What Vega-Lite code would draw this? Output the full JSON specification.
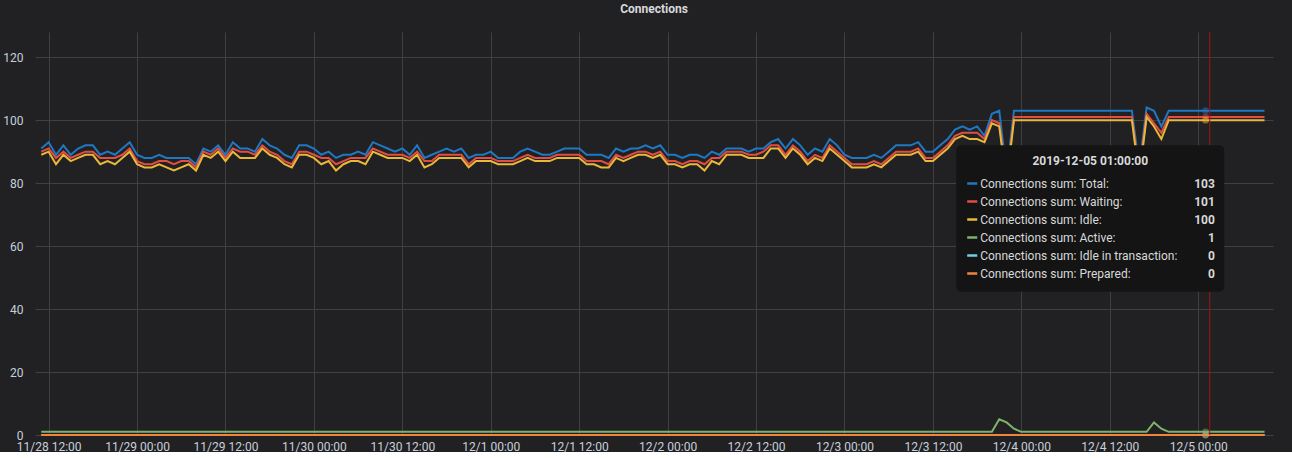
{
  "$schema": "https://vega.github.io/schema/vega-lite/v6.json",
  "width": 1238,
  "height": 403,
  "padding": {"left": 2, "top": 2, "right": 20, "bottom": 0},
  "background": "#212124",
  "title": {"text": "Connections", "color": "#d8d9da", "fontSize": 12, "fontWeight": "bold", "font": "Roboto", "offset": 16, "anchor": "middle"},
  "config": {
    "view": {"stroke": null},
    "font": "Roboto",
    "axis": {"domain": false, "ticks": false, "labelColor": "#c7d0d9", "labelFontSize": 12, "labelFont": "Roboto", "gridColor": "#3f4044", "gridWidth": 1, "title": null}
  },
  "datasets": {
    "conn": [
      {"t": "2019-11-28T11:00Z", "Total": 91, "Waiting": 90, "Idle": 89, "Active": 1, "Idle in transaction": 0, "Prepared": 0},
      {"t": "2019-11-28T12:00Z", "Total": 93, "Waiting": 91, "Idle": 90, "Active": 1, "Idle in transaction": 0, "Prepared": 0},
      {"t": "2019-11-28T13:00Z", "Total": 89, "Waiting": 88, "Idle": 86, "Active": 1, "Idle in transaction": 0, "Prepared": 0},
      {"t": "2019-11-28T14:00Z", "Total": 92, "Waiting": 90, "Idle": 89, "Active": 1, "Idle in transaction": 0, "Prepared": 0},
      {"t": "2019-11-28T15:00Z", "Total": 89, "Waiting": 88, "Idle": 87, "Active": 1, "Idle in transaction": 0, "Prepared": 0},
      {"t": "2019-11-28T16:00Z", "Total": 91, "Waiting": 89, "Idle": 88, "Active": 1, "Idle in transaction": 0, "Prepared": 0},
      {"t": "2019-11-28T17:00Z", "Total": 92, "Waiting": 90, "Idle": 89, "Active": 1, "Idle in transaction": 0, "Prepared": 0},
      {"t": "2019-11-28T18:00Z", "Total": 92, "Waiting": 90, "Idle": 89, "Active": 1, "Idle in transaction": 0, "Prepared": 0},
      {"t": "2019-11-28T19:00Z", "Total": 89, "Waiting": 88, "Idle": 86, "Active": 1, "Idle in transaction": 0, "Prepared": 0},
      {"t": "2019-11-28T20:00Z", "Total": 90, "Waiting": 88, "Idle": 87, "Active": 1, "Idle in transaction": 0, "Prepared": 0},
      {"t": "2019-11-28T21:00Z", "Total": 89, "Waiting": 88, "Idle": 86, "Active": 1, "Idle in transaction": 0, "Prepared": 0},
      {"t": "2019-11-28T22:00Z", "Total": 91, "Waiting": 89, "Idle": 88, "Active": 1, "Idle in transaction": 0, "Prepared": 0},
      {"t": "2019-11-28T23:00Z", "Total": 93, "Waiting": 91, "Idle": 90, "Active": 1, "Idle in transaction": 0, "Prepared": 0},
      {"t": "2019-11-29T00:00Z", "Total": 89, "Waiting": 87, "Idle": 86, "Active": 1, "Idle in transaction": 0, "Prepared": 0},
      {"t": "2019-11-29T01:00Z", "Total": 88, "Waiting": 86, "Idle": 85, "Active": 1, "Idle in transaction": 0, "Prepared": 0},
      {"t": "2019-11-29T02:00Z", "Total": 88, "Waiting": 86, "Idle": 85, "Active": 1, "Idle in transaction": 0, "Prepared": 0},
      {"t": "2019-11-29T03:00Z", "Total": 89, "Waiting": 87, "Idle": 86, "Active": 1, "Idle in transaction": 0, "Prepared": 0},
      {"t": "2019-11-29T04:00Z", "Total": 88, "Waiting": 87, "Idle": 85, "Active": 1, "Idle in transaction": 0, "Prepared": 0},
      {"t": "2019-11-29T05:00Z", "Total": 88, "Waiting": 86, "Idle": 84, "Active": 1, "Idle in transaction": 0, "Prepared": 0},
      {"t": "2019-11-29T06:00Z", "Total": 88, "Waiting": 87, "Idle": 85, "Active": 1, "Idle in transaction": 0, "Prepared": 0},
      {"t": "2019-11-29T07:00Z", "Total": 88, "Waiting": 87, "Idle": 86, "Active": 1, "Idle in transaction": 0, "Prepared": 0},
      {"t": "2019-11-29T08:00Z", "Total": 86, "Waiting": 85, "Idle": 84, "Active": 1, "Idle in transaction": 0, "Prepared": 0},
      {"t": "2019-11-29T09:00Z", "Total": 91, "Waiting": 90, "Idle": 89, "Active": 1, "Idle in transaction": 0, "Prepared": 0},
      {"t": "2019-11-29T10:00Z", "Total": 90, "Waiting": 89, "Idle": 88, "Active": 1, "Idle in transaction": 0, "Prepared": 0},
      {"t": "2019-11-29T11:00Z", "Total": 92, "Waiting": 91, "Idle": 90, "Active": 1, "Idle in transaction": 0, "Prepared": 0},
      {"t": "2019-11-29T12:00Z", "Total": 89, "Waiting": 88, "Idle": 87, "Active": 1, "Idle in transaction": 0, "Prepared": 0},
      {"t": "2019-11-29T13:00Z", "Total": 93, "Waiting": 91, "Idle": 90, "Active": 1, "Idle in transaction": 0, "Prepared": 0},
      {"t": "2019-11-29T14:00Z", "Total": 91, "Waiting": 90, "Idle": 88, "Active": 1, "Idle in transaction": 0, "Prepared": 0},
      {"t": "2019-11-29T15:00Z", "Total": 91, "Waiting": 90, "Idle": 88, "Active": 1, "Idle in transaction": 0, "Prepared": 0},
      {"t": "2019-11-29T16:00Z", "Total": 90, "Waiting": 89, "Idle": 88, "Active": 1, "Idle in transaction": 0, "Prepared": 0},
      {"t": "2019-11-29T17:00Z", "Total": 94, "Waiting": 92, "Idle": 91, "Active": 1, "Idle in transaction": 0, "Prepared": 0},
      {"t": "2019-11-29T18:00Z", "Total": 92, "Waiting": 90, "Idle": 89, "Active": 1, "Idle in transaction": 0, "Prepared": 0},
      {"t": "2019-11-29T19:00Z", "Total": 91, "Waiting": 89, "Idle": 88, "Active": 1, "Idle in transaction": 0, "Prepared": 0},
      {"t": "2019-11-29T20:00Z", "Total": 89, "Waiting": 87, "Idle": 86, "Active": 1, "Idle in transaction": 0, "Prepared": 0},
      {"t": "2019-11-29T21:00Z", "Total": 88, "Waiting": 86, "Idle": 85, "Active": 1, "Idle in transaction": 0, "Prepared": 0},
      {"t": "2019-11-29T22:00Z", "Total": 92, "Waiting": 90, "Idle": 89, "Active": 1, "Idle in transaction": 0, "Prepared": 0},
      {"t": "2019-11-29T23:00Z", "Total": 92, "Waiting": 90, "Idle": 89, "Active": 1, "Idle in transaction": 0, "Prepared": 0},
      {"t": "2019-11-30T00:00Z", "Total": 91, "Waiting": 89, "Idle": 88, "Active": 1, "Idle in transaction": 0, "Prepared": 0},
      {"t": "2019-11-30T01:00Z", "Total": 89, "Waiting": 88, "Idle": 86, "Active": 1, "Idle in transaction": 0, "Prepared": 0},
      {"t": "2019-11-30T02:00Z", "Total": 90, "Waiting": 88, "Idle": 87, "Active": 1, "Idle in transaction": 0, "Prepared": 0},
      {"t": "2019-11-30T03:00Z", "Total": 88, "Waiting": 86, "Idle": 84, "Active": 1, "Idle in transaction": 0, "Prepared": 0},
      {"t": "2019-11-30T04:00Z", "Total": 89, "Waiting": 87, "Idle": 86, "Active": 1, "Idle in transaction": 0, "Prepared": 0},
      {"t": "2019-11-30T05:00Z", "Total": 89, "Waiting": 88, "Idle": 87, "Active": 1, "Idle in transaction": 0, "Prepared": 0},
      {"t": "2019-11-30T06:00Z", "Total": 90, "Waiting": 88, "Idle": 87, "Active": 1, "Idle in transaction": 0, "Prepared": 0},
      {"t": "2019-11-30T07:00Z", "Total": 89, "Waiting": 88, "Idle": 86, "Active": 1, "Idle in transaction": 0, "Prepared": 0},
      {"t": "2019-11-30T08:00Z", "Total": 93, "Waiting": 91, "Idle": 90, "Active": 1, "Idle in transaction": 0, "Prepared": 0},
      {"t": "2019-11-30T09:00Z", "Total": 92, "Waiting": 90, "Idle": 89, "Active": 1, "Idle in transaction": 0, "Prepared": 0},
      {"t": "2019-11-30T10:00Z", "Total": 91, "Waiting": 89, "Idle": 88, "Active": 1, "Idle in transaction": 0, "Prepared": 0},
      {"t": "2019-11-30T11:00Z", "Total": 90, "Waiting": 89, "Idle": 88, "Active": 1, "Idle in transaction": 0, "Prepared": 0},
      {"t": "2019-11-30T12:00Z", "Total": 91, "Waiting": 89, "Idle": 88, "Active": 1, "Idle in transaction": 0, "Prepared": 0},
      {"t": "2019-11-30T13:00Z", "Total": 89, "Waiting": 88, "Idle": 87, "Active": 1, "Idle in transaction": 0, "Prepared": 0},
      {"t": "2019-11-30T14:00Z", "Total": 92, "Waiting": 90, "Idle": 89, "Active": 1, "Idle in transaction": 0, "Prepared": 0},
      {"t": "2019-11-30T15:00Z", "Total": 88, "Waiting": 87, "Idle": 85, "Active": 1, "Idle in transaction": 0, "Prepared": 0},
      {"t": "2019-11-30T16:00Z", "Total": 89, "Waiting": 87, "Idle": 86, "Active": 1, "Idle in transaction": 0, "Prepared": 0},
      {"t": "2019-11-30T17:00Z", "Total": 90, "Waiting": 89, "Idle": 88, "Active": 1, "Idle in transaction": 0, "Prepared": 0},
      {"t": "2019-11-30T18:00Z", "Total": 91, "Waiting": 89, "Idle": 88, "Active": 1, "Idle in transaction": 0, "Prepared": 0},
      {"t": "2019-11-30T19:00Z", "Total": 90, "Waiting": 89, "Idle": 88, "Active": 1, "Idle in transaction": 0, "Prepared": 0},
      {"t": "2019-11-30T20:00Z", "Total": 91, "Waiting": 89, "Idle": 88, "Active": 1, "Idle in transaction": 0, "Prepared": 0},
      {"t": "2019-11-30T21:00Z", "Total": 88, "Waiting": 86, "Idle": 85, "Active": 1, "Idle in transaction": 0, "Prepared": 0},
      {"t": "2019-11-30T22:00Z", "Total": 89, "Waiting": 88, "Idle": 87, "Active": 1, "Idle in transaction": 0, "Prepared": 0},
      {"t": "2019-11-30T23:00Z", "Total": 89, "Waiting": 88, "Idle": 87, "Active": 1, "Idle in transaction": 0, "Prepared": 0},
      {"t": "2019-12-01T00:00Z", "Total": 90, "Waiting": 88, "Idle": 87, "Active": 1, "Idle in transaction": 0, "Prepared": 0},
      {"t": "2019-12-01T01:00Z", "Total": 88, "Waiting": 87, "Idle": 86, "Active": 1, "Idle in transaction": 0, "Prepared": 0},
      {"t": "2019-12-01T02:00Z", "Total": 88, "Waiting": 87, "Idle": 86, "Active": 1, "Idle in transaction": 0, "Prepared": 0},
      {"t": "2019-12-01T03:00Z", "Total": 88, "Waiting": 87, "Idle": 86, "Active": 1, "Idle in transaction": 0, "Prepared": 0},
      {"t": "2019-12-01T04:00Z", "Total": 90, "Waiting": 88, "Idle": 87, "Active": 1, "Idle in transaction": 0, "Prepared": 0},
      {"t": "2019-12-01T05:00Z", "Total": 91, "Waiting": 89, "Idle": 88, "Active": 1, "Idle in transaction": 0, "Prepared": 0},
      {"t": "2019-12-01T06:00Z", "Total": 90, "Waiting": 88, "Idle": 87, "Active": 1, "Idle in transaction": 0, "Prepared": 0},
      {"t": "2019-12-01T07:00Z", "Total": 89, "Waiting": 88, "Idle": 87, "Active": 1, "Idle in transaction": 0, "Prepared": 0},
      {"t": "2019-12-01T08:00Z", "Total": 89, "Waiting": 88, "Idle": 87, "Active": 1, "Idle in transaction": 0, "Prepared": 0},
      {"t": "2019-12-01T09:00Z", "Total": 90, "Waiting": 89, "Idle": 88, "Active": 1, "Idle in transaction": 0, "Prepared": 0},
      {"t": "2019-12-01T10:00Z", "Total": 91, "Waiting": 89, "Idle": 88, "Active": 1, "Idle in transaction": 0, "Prepared": 0},
      {"t": "2019-12-01T11:00Z", "Total": 91, "Waiting": 89, "Idle": 88, "Active": 1, "Idle in transaction": 0, "Prepared": 0},
      {"t": "2019-12-01T12:00Z", "Total": 91, "Waiting": 89, "Idle": 88, "Active": 1, "Idle in transaction": 0, "Prepared": 0},
      {"t": "2019-12-01T13:00Z", "Total": 89, "Waiting": 87, "Idle": 86, "Active": 1, "Idle in transaction": 0, "Prepared": 0},
      {"t": "2019-12-01T14:00Z", "Total": 89, "Waiting": 87, "Idle": 86, "Active": 1, "Idle in transaction": 0, "Prepared": 0},
      {"t": "2019-12-01T15:00Z", "Total": 89, "Waiting": 87, "Idle": 85, "Active": 1, "Idle in transaction": 0, "Prepared": 0},
      {"t": "2019-12-01T16:00Z", "Total": 88, "Waiting": 86, "Idle": 85, "Active": 1, "Idle in transaction": 0, "Prepared": 0},
      {"t": "2019-12-01T17:00Z", "Total": 91, "Waiting": 89, "Idle": 88, "Active": 1, "Idle in transaction": 0, "Prepared": 0},
      {"t": "2019-12-01T18:00Z", "Total": 90, "Waiting": 88, "Idle": 87, "Active": 1, "Idle in transaction": 0, "Prepared": 0},
      {"t": "2019-12-01T19:00Z", "Total": 91, "Waiting": 89, "Idle": 88, "Active": 1, "Idle in transaction": 0, "Prepared": 0},
      {"t": "2019-12-01T20:00Z", "Total": 91, "Waiting": 90, "Idle": 89, "Active": 1, "Idle in transaction": 0, "Prepared": 0},
      {"t": "2019-12-01T21:00Z", "Total": 92, "Waiting": 90, "Idle": 89, "Active": 1, "Idle in transaction": 0, "Prepared": 0},
      {"t": "2019-12-01T22:00Z", "Total": 91, "Waiting": 89, "Idle": 88, "Active": 1, "Idle in transaction": 0, "Prepared": 0},
      {"t": "2019-12-01T23:00Z", "Total": 92, "Waiting": 90, "Idle": 89, "Active": 1, "Idle in transaction": 0, "Prepared": 0},
      {"t": "2019-12-02T00:00Z", "Total": 89, "Waiting": 87, "Idle": 86, "Active": 1, "Idle in transaction": 0, "Prepared": 0},
      {"t": "2019-12-02T01:00Z", "Total": 89, "Waiting": 87, "Idle": 86, "Active": 1, "Idle in transaction": 0, "Prepared": 0},
      {"t": "2019-12-02T02:00Z", "Total": 88, "Waiting": 86, "Idle": 85, "Active": 1, "Idle in transaction": 0, "Prepared": 0},
      {"t": "2019-12-02T03:00Z", "Total": 89, "Waiting": 87, "Idle": 86, "Active": 1, "Idle in transaction": 0, "Prepared": 0},
      {"t": "2019-12-02T04:00Z", "Total": 89, "Waiting": 87, "Idle": 86, "Active": 1, "Idle in transaction": 0, "Prepared": 0},
      {"t": "2019-12-02T05:00Z", "Total": 88, "Waiting": 86, "Idle": 84, "Active": 1, "Idle in transaction": 0, "Prepared": 0},
      {"t": "2019-12-02T06:00Z", "Total": 90, "Waiting": 88, "Idle": 87, "Active": 1, "Idle in transaction": 0, "Prepared": 0},
      {"t": "2019-12-02T07:00Z", "Total": 89, "Waiting": 88, "Idle": 86, "Active": 1, "Idle in transaction": 0, "Prepared": 0},
      {"t": "2019-12-02T08:00Z", "Total": 91, "Waiting": 90, "Idle": 89, "Active": 1, "Idle in transaction": 0, "Prepared": 0},
      {"t": "2019-12-02T09:00Z", "Total": 91, "Waiting": 90, "Idle": 89, "Active": 1, "Idle in transaction": 0, "Prepared": 0},
      {"t": "2019-12-02T10:00Z", "Total": 91, "Waiting": 90, "Idle": 89, "Active": 1, "Idle in transaction": 0, "Prepared": 0},
      {"t": "2019-12-02T11:00Z", "Total": 90, "Waiting": 89, "Idle": 88, "Active": 1, "Idle in transaction": 0, "Prepared": 0},
      {"t": "2019-12-02T12:00Z", "Total": 91, "Waiting": 89, "Idle": 88, "Active": 1, "Idle in transaction": 0, "Prepared": 0},
      {"t": "2019-12-02T13:00Z", "Total": 91, "Waiting": 90, "Idle": 88, "Active": 1, "Idle in transaction": 0, "Prepared": 0},
      {"t": "2019-12-02T14:00Z", "Total": 93, "Waiting": 92, "Idle": 91, "Active": 1, "Idle in transaction": 0, "Prepared": 0},
      {"t": "2019-12-02T15:00Z", "Total": 94, "Waiting": 92, "Idle": 91, "Active": 1, "Idle in transaction": 0, "Prepared": 0},
      {"t": "2019-12-02T16:00Z", "Total": 91, "Waiting": 89, "Idle": 88, "Active": 1, "Idle in transaction": 0, "Prepared": 0},
      {"t": "2019-12-02T17:00Z", "Total": 94, "Waiting": 92, "Idle": 91, "Active": 1, "Idle in transaction": 0, "Prepared": 0},
      {"t": "2019-12-02T18:00Z", "Total": 92, "Waiting": 90, "Idle": 89, "Active": 1, "Idle in transaction": 0, "Prepared": 0},
      {"t": "2019-12-02T19:00Z", "Total": 89, "Waiting": 87, "Idle": 86, "Active": 1, "Idle in transaction": 0, "Prepared": 0},
      {"t": "2019-12-02T20:00Z", "Total": 91, "Waiting": 89, "Idle": 88, "Active": 1, "Idle in transaction": 0, "Prepared": 0},
      {"t": "2019-12-02T21:00Z", "Total": 90, "Waiting": 88, "Idle": 87, "Active": 1, "Idle in transaction": 0, "Prepared": 0},
      {"t": "2019-12-02T22:00Z", "Total": 94, "Waiting": 92, "Idle": 91, "Active": 1, "Idle in transaction": 0, "Prepared": 0},
      {"t": "2019-12-02T23:00Z", "Total": 92, "Waiting": 90, "Idle": 89, "Active": 1, "Idle in transaction": 0, "Prepared": 0},
      {"t": "2019-12-03T00:00Z", "Total": 89, "Waiting": 88, "Idle": 87, "Active": 1, "Idle in transaction": 0, "Prepared": 0},
      {"t": "2019-12-03T01:00Z", "Total": 88, "Waiting": 86, "Idle": 85, "Active": 1, "Idle in transaction": 0, "Prepared": 0},
      {"t": "2019-12-03T02:00Z", "Total": 88, "Waiting": 86, "Idle": 85, "Active": 1, "Idle in transaction": 0, "Prepared": 0},
      {"t": "2019-12-03T03:00Z", "Total": 88, "Waiting": 86, "Idle": 85, "Active": 1, "Idle in transaction": 0, "Prepared": 0},
      {"t": "2019-12-03T04:00Z", "Total": 89, "Waiting": 87, "Idle": 86, "Active": 1, "Idle in transaction": 0, "Prepared": 0},
      {"t": "2019-12-03T05:00Z", "Total": 88, "Waiting": 86, "Idle": 85, "Active": 1, "Idle in transaction": 0, "Prepared": 0},
      {"t": "2019-12-03T06:00Z", "Total": 90, "Waiting": 88, "Idle": 87, "Active": 1, "Idle in transaction": 0, "Prepared": 0},
      {"t": "2019-12-03T07:00Z", "Total": 92, "Waiting": 90, "Idle": 89, "Active": 1, "Idle in transaction": 0, "Prepared": 0},
      {"t": "2019-12-03T08:00Z", "Total": 92, "Waiting": 90, "Idle": 89, "Active": 1, "Idle in transaction": 0, "Prepared": 0},
      {"t": "2019-12-03T09:00Z", "Total": 92, "Waiting": 90, "Idle": 89, "Active": 1, "Idle in transaction": 0, "Prepared": 0},
      {"t": "2019-12-03T10:00Z", "Total": 93, "Waiting": 91, "Idle": 90, "Active": 1, "Idle in transaction": 0, "Prepared": 0},
      {"t": "2019-12-03T11:00Z", "Total": 90, "Waiting": 88, "Idle": 87, "Active": 1, "Idle in transaction": 0, "Prepared": 0},
      {"t": "2019-12-03T12:00Z", "Total": 90, "Waiting": 88, "Idle": 87, "Active": 1, "Idle in transaction": 0, "Prepared": 0},
      {"t": "2019-12-03T13:00Z", "Total": 92, "Waiting": 90, "Idle": 89, "Active": 1, "Idle in transaction": 0, "Prepared": 0},
      {"t": "2019-12-03T14:00Z", "Total": 94, "Waiting": 92, "Idle": 91, "Active": 1, "Idle in transaction": 0, "Prepared": 0},
      {"t": "2019-12-03T15:00Z", "Total": 97, "Waiting": 95, "Idle": 94, "Active": 1, "Idle in transaction": 0, "Prepared": 0},
      {"t": "2019-12-03T16:00Z", "Total": 98, "Waiting": 96, "Idle": 95, "Active": 1, "Idle in transaction": 0, "Prepared": 0},
      {"t": "2019-12-03T17:00Z", "Total": 97, "Waiting": 96, "Idle": 94, "Active": 1, "Idle in transaction": 0, "Prepared": 0},
      {"t": "2019-12-03T18:00Z", "Total": 98, "Waiting": 96, "Idle": 94, "Active": 1, "Idle in transaction": 0, "Prepared": 0},
      {"t": "2019-12-03T19:00Z", "Total": 95, "Waiting": 94, "Idle": 93, "Active": 1, "Idle in transaction": 0, "Prepared": 0},
      {"t": "2019-12-03T20:00Z", "Total": 102, "Waiting": 100, "Idle": 99, "Active": 1, "Idle in transaction": 0, "Prepared": 0},
      {"t": "2019-12-03T21:00Z", "Total": 103, "Waiting": 99, "Idle": 98, "Active": 5, "Idle in transaction": 0, "Prepared": 0},
      {"t": "2019-12-03T22:00Z", "Total": 83, "Waiting": 81, "Idle": 80, "Active": 4, "Idle in transaction": 0, "Prepared": 0},
      {"t": "2019-12-03T23:00Z", "Total": 103, "Waiting": 101, "Idle": 100, "Active": 2, "Idle in transaction": 0, "Prepared": 0},
      {"t": "2019-12-04T00:00Z", "Total": 103, "Waiting": 101, "Idle": 100, "Active": 1, "Idle in transaction": 0, "Prepared": 0},
      {"t": "2019-12-04T01:00Z", "Total": 103, "Waiting": 101, "Idle": 100, "Active": 1, "Idle in transaction": 0, "Prepared": 0},
      {"t": "2019-12-04T02:00Z", "Total": 103, "Waiting": 101, "Idle": 100, "Active": 1, "Idle in transaction": 0, "Prepared": 0},
      {"t": "2019-12-04T03:00Z", "Total": 103, "Waiting": 101, "Idle": 100, "Active": 1, "Idle in transaction": 0, "Prepared": 0},
      {"t": "2019-12-04T04:00Z", "Total": 103, "Waiting": 101, "Idle": 100, "Active": 1, "Idle in transaction": 0, "Prepared": 0},
      {"t": "2019-12-04T05:00Z", "Total": 103, "Waiting": 101, "Idle": 100, "Active": 1, "Idle in transaction": 0, "Prepared": 0},
      {"t": "2019-12-04T06:00Z", "Total": 103, "Waiting": 101, "Idle": 100, "Active": 1, "Idle in transaction": 0, "Prepared": 0},
      {"t": "2019-12-04T07:00Z", "Total": 103, "Waiting": 101, "Idle": 100, "Active": 1, "Idle in transaction": 0, "Prepared": 0},
      {"t": "2019-12-04T08:00Z", "Total": 103, "Waiting": 101, "Idle": 100, "Active": 1, "Idle in transaction": 0, "Prepared": 0},
      {"t": "2019-12-04T09:00Z", "Total": 103, "Waiting": 101, "Idle": 100, "Active": 1, "Idle in transaction": 0, "Prepared": 0},
      {"t": "2019-12-04T10:00Z", "Total": 103, "Waiting": 101, "Idle": 100, "Active": 1, "Idle in transaction": 0, "Prepared": 0},
      {"t": "2019-12-04T11:00Z", "Total": 103, "Waiting": 101, "Idle": 100, "Active": 1, "Idle in transaction": 0, "Prepared": 0},
      {"t": "2019-12-04T12:00Z", "Total": 103, "Waiting": 101, "Idle": 100, "Active": 1, "Idle in transaction": 0, "Prepared": 0},
      {"t": "2019-12-04T13:00Z", "Total": 103, "Waiting": 101, "Idle": 100, "Active": 1, "Idle in transaction": 0, "Prepared": 0},
      {"t": "2019-12-04T14:00Z", "Total": 103, "Waiting": 101, "Idle": 100, "Active": 1, "Idle in transaction": 0, "Prepared": 0},
      {"t": "2019-12-04T15:00Z", "Total": 103, "Waiting": 101, "Idle": 100, "Active": 1, "Idle in transaction": 0, "Prepared": 0},
      {"t": "2019-12-04T16:00Z", "Total": 85, "Waiting": 83, "Idle": 82, "Active": 1, "Idle in transaction": 0, "Prepared": 0},
      {"t": "2019-12-04T17:00Z", "Total": 104, "Waiting": 102, "Idle": 101, "Active": 1, "Idle in transaction": 0, "Prepared": 0},
      {"t": "2019-12-04T18:00Z", "Total": 103, "Waiting": 99, "Idle": 98, "Active": 4, "Idle in transaction": 0, "Prepared": 0},
      {"t": "2019-12-04T19:00Z", "Total": 98, "Waiting": 96, "Idle": 94, "Active": 2, "Idle in transaction": 0, "Prepared": 0},
      {"t": "2019-12-04T20:00Z", "Total": 103, "Waiting": 101, "Idle": 100, "Active": 1, "Idle in transaction": 0, "Prepared": 0},
      {"t": "2019-12-04T21:00Z", "Total": 103, "Waiting": 101, "Idle": 100, "Active": 1, "Idle in transaction": 0, "Prepared": 0},
      {"t": "2019-12-04T22:00Z", "Total": 103, "Waiting": 101, "Idle": 100, "Active": 1, "Idle in transaction": 0, "Prepared": 0},
      {"t": "2019-12-04T23:00Z", "Total": 103, "Waiting": 101, "Idle": 100, "Active": 1, "Idle in transaction": 0, "Prepared": 0},
      {"t": "2019-12-05T00:00Z", "Total": 103, "Waiting": 101, "Idle": 100, "Active": 1, "Idle in transaction": 0, "Prepared": 0},
      {"t": "2019-12-05T01:00Z", "Total": 103, "Waiting": 101, "Idle": 100, "Active": 1, "Idle in transaction": 0, "Prepared": 0},
      {"t": "2019-12-05T02:00Z", "Total": 103, "Waiting": 101, "Idle": 100, "Active": 1, "Idle in transaction": 0, "Prepared": 0},
      {"t": "2019-12-05T03:00Z", "Total": 103, "Waiting": 101, "Idle": 100, "Active": 1, "Idle in transaction": 0, "Prepared": 0},
      {"t": "2019-12-05T04:00Z", "Total": 103, "Waiting": 101, "Idle": 100, "Active": 1, "Idle in transaction": 0, "Prepared": 0},
      {"t": "2019-12-05T05:00Z", "Total": 103, "Waiting": 101, "Idle": 100, "Active": 1, "Idle in transaction": 0, "Prepared": 0},
      {"t": "2019-12-05T06:00Z", "Total": 103, "Waiting": 101, "Idle": 100, "Active": 1, "Idle in transaction": 0, "Prepared": 0},
      {"t": "2019-12-05T07:00Z", "Total": 103, "Waiting": 101, "Idle": 100, "Active": 1, "Idle in transaction": 0, "Prepared": 0},
      {"t": "2019-12-05T08:00Z", "Total": 103, "Waiting": 101, "Idle": 100, "Active": 1, "Idle in transaction": 0, "Prepared": 0},
      {"t": "2019-12-05T09:00Z", "Total": 103, "Waiting": 101, "Idle": 100, "Active": 1, "Idle in transaction": 0, "Prepared": 0}
    ]
  },
  "layer": [
    {
      "layer": [
        {
          "data": {"name": "conn"},
          "transform": [
            {"fold": ["Total", "Waiting", "Idle", "Active", "Idle in transaction", "Prepared"], "as": ["series", "value"]}
          ],
          "layer": [
            {
              "mark": {"type": "line", "strokeWidth": 2},
              "encoding": {
                "x": {
                  "field": "t", "type": "temporal",
                  "scale": {"type": "utc", "domain": [1574935740000, 1575540540000]},
                  "axis": {
                    "labelExpr": "utcFormat(datum.value, '%-m/%-d %H:%M')",
                    "values": [1574942400000, 1574985600000, 1575028800000, 1575072000000, 1575115200000, 1575158400000, 1575201600000, 1575244800000, 1575288000000, 1575331200000, 1575374400000, 1575417600000, 1575460800000, 1575504000000],
                    "labelPadding": 6, "labelFlush": false, "labelOverlap": false, "grid": true
                  }
                },
                "y": {
                  "field": "value", "type": "quantitative",
                  "scale": {"domain": [0, 128], "nice": false},
                  "axis": {"values": [0, 20, 40, 60, 80, 100, 120], "labelPadding": 12, "grid": true}
                },
                "color": {
                  "field": "series", "type": "nominal", "legend": null,
                  "scale": {
                    "domain": ["Total", "Waiting", "Idle", "Active", "Idle in transaction", "Prepared"],
                    "range": ["#1F78C1", "#E24D42", "#EAB839", "#7EB26D", "#6ED0E0", "#EF843C"]
                  }
                }
              }
            },
            {
              "transform": [{"filter": "utcmonth(datum.t) == 11 && utcdate(datum.t) == 5 && utchours(datum.t) == 1"}],
              "mark": {"type": "point", "filled": true, "size": 45, "opacity": 0.45},
              "encoding": {
                "x": {"field": "t", "type": "temporal"},
                "y": {"field": "value", "type": "quantitative"},
                "color": {"field": "series", "type": "nominal"}
              }
            }
          ]
        },
        {
          "data": {"values": [{}]},
          "mark": {"type": "rule", "color": "#a31515", "strokeWidth": 1},
          "encoding": {
            "x": {"datum": 1575509640000, "type": "temporal"}
          }
        },
        {
          "data": {"values": [{}]},
          "mark": {"type": "rect", "color": "#141414", "cornerRadius": 5},
          "encoding": {
            "x": {"datum": 1575385800000, "type": "temporal"},
            "x2": {"datum": 1575516720000},
            "y": {"datum": 92, "type": "quantitative"},
            "y2": {"datum": 45.5}
          }
        },
        {
          "data": {"values": [{}]},
          "mark": {"type": "text", "align": "center", "baseline": "middle", "fontSize": 12, "fontWeight": "bold", "color": "#d8d9da"},
          "encoding": {
            "x": {"datum": 1575451260000, "type": "temporal"},
            "y": {"datum": 86.9, "type": "quantitative"},
            "text": {"value": "2019-12-05 01:00:00"}
          }
        }
      ]
    },
    {
      "data": {"name": "conn"},
      "transform": [
        {"fold": ["Total", "Waiting", "Idle", "Active", "Idle in transaction", "Prepared"], "as": ["series", "value"]},
        {"filter": "utcmonth(datum.t) == 11 && utcdate(datum.t) == 5 && utchours(datum.t) == 1"},
        {"calculate": "'Connections sum: ' + datum.series + ':'", "as": "label"}
      ],
      "encoding": {
        "y": {
          "field": "series", "type": "ordinal", "axis": null,
          "scale": {"type": "point", "padding": 0, "domain": ["Total", "Waiting", "Idle", "Active", "Idle in transaction", "Prepared"], "range": [151.5, 241.5]}
        }
      },
      "layer": [
        {
          "mark": {"type": "rule", "strokeWidth": 2.5},
          "encoding": {
            "x": {"datum": 1575391140000, "type": "temporal"},
            "x2": {"datum": 1575396060000},
            "color": {"field": "series", "type": "nominal"}
          }
        },
        {
          "mark": {"type": "text", "align": "left", "baseline": "middle", "fontSize": 12, "color": "#d8d9da"},
          "encoding": {
            "x": {"datum": 1575397500000, "type": "temporal"},
            "text": {"field": "label"}
          }
        },
        {
          "mark": {"type": "text", "align": "right", "baseline": "middle", "fontSize": 12, "fontWeight": "bold", "color": "#d8d9da"},
          "encoding": {
            "x": {"datum": 1575512100000, "type": "temporal"},
            "text": {"field": "value", "type": "quantitative", "format": "d"}
          }
        }
      ]
    }
  ],
  "resolve": {"scale": {"y": "independent"}}
}
